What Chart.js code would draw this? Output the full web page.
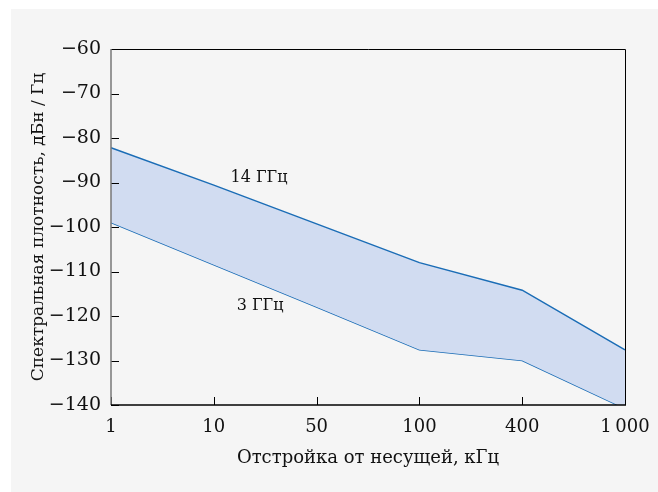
<!DOCTYPE html>
<html>
<head>
<meta charset="utf-8">
<script src="https://cdn.jsdelivr.net/npm/chart.js@4.4.1/dist/chart.umd.min.js"></script>
<style>
  html, body { margin: 0; padding: 0; background: #fff; }
  #panel { position: absolute; left: 11px; top: 9px; width: 647px; height: 483px; background: #f5f5f5; }
  #wrap { position: absolute; left: 0; top: 0; width: 658px; height: 492px; }
</style>
</head>
<body>
<div id="panel"></div>
<div id="wrap"><canvas id="chart" width="658" height="492"></canvas></div>
<script>
const offsets = ['1', '10', '50', '100', '400', '1\u202F000'];
const upper14 = [-82.2, -90.6, -99.3, -108.0, -114.2, -127.6];
const lower3 = [-99.0, -108.5, -118.0, -127.6, -130.0, -140.8];
const yTicks = [-60, -70, -80, -90, -100, -110, -120, -130, -140];
const notes = [
  { text: '14 ГГц', at: 1.44, value: -89.0 },
  { text: '3 ГГц', at: 1.45, value: -117.8 }
];

const serif = '"DejaVu Serif", serif';
const lineColor = '#1b6db6';

// short tick marks drawn inside the frame, plus the frame itself
const frame = {
  id: 'frame',
  afterDatasetsDraw(chart) {
    const { ctx, chartArea: a, scales } = chart;
    ctx.save();
    ctx.lineWidth = 1;
    ctx.strokeStyle = '#000';
    ctx.beginPath();
    ctx.moveTo(a.left, a.top + 0.5);
    ctx.lineTo(a.right + 0.5, a.top + 0.5);
    ctx.lineTo(a.right + 0.5, a.bottom);
    ctx.stroke();
    scales.y.ticks.forEach((t, i) => {
      const y = Math.round(scales.y.getPixelForTick(i)) + 0.5;
      ctx.beginPath();
      ctx.moveTo(a.left, y);
      ctx.lineTo(a.left + 8, y);
      ctx.stroke();
    });
    scales.x.ticks.forEach((t, i) => {
      const x = Math.round(scales.x.getPixelForTick(i)) + 0.5;
      ctx.beginPath();
      ctx.moveTo(x, a.bottom);
      ctx.lineTo(x, a.bottom - 8);
      ctx.stroke();
    });
    ctx.strokeStyle = '#777';
    ctx.lineWidth = 1.5;
    ctx.beginPath();
    ctx.moveTo(a.left, a.top);
    ctx.lineTo(a.left, a.bottom);
    ctx.stroke();
    ctx.strokeStyle = '#000';
    ctx.beginPath();
    ctx.moveTo(a.left, a.bottom);
    ctx.lineTo(a.right + 1, a.bottom);
    ctx.stroke();

    ctx.fillStyle = '#111';
    ctx.font = '16px ' + serif;
    ctx.textAlign = 'center';
    ctx.textBaseline = 'middle';
    notes.forEach((n) => {
      ctx.fillText(n.text, scales.x.getPixelForValue(n.at), scales.y.getPixelForValue(n.value));
    });
    ctx.restore();
  }
};

new Chart(document.getElementById('chart'), {
  type: 'line',
  data: {
    labels: offsets,
    datasets: [
      {
        data: upper14,
        borderColor: lineColor,
        borderWidth: 1.5,
        backgroundColor: '#d1dcf1',
        fill: '+1',
        pointRadius: 0,
        tension: 0
      },
      {
        data: lower3,
        borderColor: lineColor,
        borderWidth: 1.5,
        fill: false,
        pointRadius: 0,
        tension: 0
      }
    ]
  },
  options: {
    responsive: false,
    animation: false,
    layout: { padding: { left: 0, top: 49, right: 33, bottom: 0 } },
    plugins: { legend: { display: false }, tooltip: { enabled: false } },
    scales: {
      x: {
        type: 'category',
        offset: false,
        grid: { display: false, drawTicks: false },
        border: { display: false },
        ticks: { color: '#111', font: { family: serif, size: 18 }, padding: 12, maxRotation: 0, autoSkip: false },
        title: {
          display: true,
          text: 'Отстройка от несущей, кГц',
          color: '#111',
          font: { family: serif, size: 18 },
          padding: { top: 0, bottom: 23 }
        },
        afterFit: (s) => {
          s.height = 87;
          s.paddingLeft = 0;
          s.paddingRight = 0;
        }
      },
      y: {
        min: -140,
        max: -60,
        grid: { display: false, drawTicks: false },
        border: { display: false },
        afterBuildTicks: (s) => { s.ticks = yTicks.map((v) => ({ value: v })); },
        ticks: {
          color: '#111',
          font: { family: serif, size: 19 },
          padding: 10,
          callback: (v) => String(v).replace('-', '\u2212')
        },
        title: {
          display: true,
          text: 'Спектральная плотность, дБн / Гц',
          color: '#111',
          font: { family: serif, size: 17 },
          padding: { top: 28, bottom: 0 }
        },
        afterFit: (s) => {
          s.width = 111;
          s.paddingTop = 0;
          s.paddingBottom = 0;
        }
      }
    }
  },
  plugins: [frame]
});
</script>
</body>
</html>
